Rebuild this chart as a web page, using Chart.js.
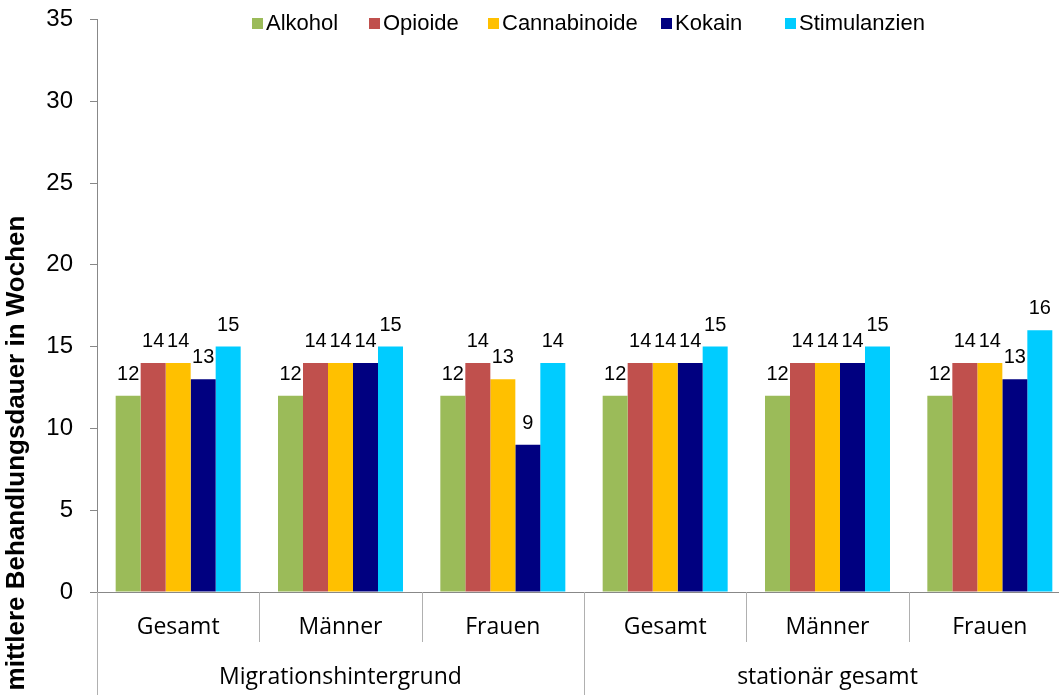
<!DOCTYPE html>
<html>
<head>
<meta charset="utf-8">
<script src="https://cdn.jsdelivr.net/npm/chart.js@4/dist/chart.umd.min.js"></script>
<style>
  html, body { margin: 0; padding: 0; background: #fff; overflow: hidden; }
  #wrap { width: 1059px; height: 695px; overflow: hidden; }
  #chart { display: block; margin-top: -12px; }
</style>
</head>
<body>
<div id="wrap"><canvas id="chart" width="1075" height="707"></canvas></div>
<script>
// Kategorien und Gruppen
var kategorien = ['Gesamt', 'Männer', 'Frauen', 'Gesamt', 'Männer', 'Frauen'];
var gruppen = ['Migrationshintergrund', 'stationär gesamt'];

// Werte je Substanz
var alkohol = [12, 12, 12, 12, 12, 12];
var opioide = [14, 14, 14, 14, 14, 14];
var cannabinoide = [14, 14, 13, 14, 14, 14];
var kokain = [13, 14, 9, 14, 14, 13];
var stimulanzien = [15, 15, 14, 15, 15, 16];

var yTicks = [0, 5, 10, 15, 20, 25, 30, 35];

var serien = [
    { label: 'Alkohol', data: alkohol, color: '#9BBB59' },
    { label: 'Opioide', data: opioide, color: '#C0504D' },
    { label: 'Cannabinoide', data: cannabinoide, color: '#FFC000' },
    { label: 'Kokain', data: kokain, color: '#000080' },
    { label: 'Stimulanzien', data: stimulanzien, color: '#00CCFF' }
];

var versatz = 12; // Canvas ist um 12px nach oben verschoben

// Legende, Werte, zweistufige Achse selbst zeichnen
var extras = {
    id: 'extras',
    afterDatasetsDraw(chart) {
        var ctx = chart.ctx;
        var area = chart.chartArea;
        var x = chart.scales.x;

        // Datenbeschriftungen
        ctx.save();
        ctx.fillStyle = '#000';
        ctx.font = '20px "Liberation Sans", Arial, sans-serif';
        ctx.textAlign = 'center';
        ctx.textBaseline = 'alphabetic';
        chart.data.datasets.forEach((ds, i) => {
            chart.getDatasetMeta(i).data.forEach((bar, j) => {
                ctx.fillText(ds.data[j], bar.x, bar.y - 16);
            });
        });
        ctx.restore();

        // Trennlinien und Beschriftungen der x-Achse
        var step = x.getPixelForValue(1) - x.getPixelForValue(0);
        ctx.save();
        ctx.strokeStyle = '#b0b0b0';
        ctx.lineWidth = 1;
        for (var k = 0; k <= kategorien.length; k++) {
            var px = Math.round(x.getPixelForValue(k) - step / 2) + 0.5;
            var lang = (k % 3 === 0);
            ctx.beginPath();
            ctx.moveTo(px, area.bottom);
            ctx.lineTo(px, lang ? area.bottom + 103 : area.bottom + 50);
            ctx.stroke();
        }
        ctx.fillStyle = '#000';
        ctx.font = '23px "Open Sans", "Noto Sans", sans-serif';
        ctx.textAlign = 'center';
        ctx.textBaseline = 'middle';
        kategorien.forEach((k, i) => {
            ctx.fillText(k, x.getPixelForValue(i), area.bottom + 35);
        });
        gruppen.forEach((g, i) => {
            var mitte = (x.getPixelForValue(i * 3) + x.getPixelForValue(i * 3 + 2)) / 2;
            ctx.fillText(g, mitte, area.bottom + 85);
        });
        ctx.restore();

        // Legende
        ctx.save();
        ctx.font = '22px "Liberation Sans", Arial, sans-serif';
        ctx.textBaseline = 'middle';
        ctx.textAlign = 'left';
        var lx = [252, 369, 488, 661, 785];
        serien.forEach((s, i) => {
            ctx.fillStyle = s.color;
            ctx.fillRect(lx[i], 18 + versatz, 11, 11);
            ctx.fillStyle = '#000';
            ctx.fillText(s.label, lx[i] + 14, 24 + versatz);
        });
        ctx.restore();

        // y-Achsentitel
        ctx.save();
        ctx.translate(17, 453 + versatz);
        ctx.rotate(-Math.PI / 2);
        ctx.font = 'bold 26px "Liberation Sans", Arial, sans-serif';
        ctx.textAlign = 'center';
        ctx.textBaseline = 'middle';
        ctx.fillStyle = '#000';
        ctx.fillText('mittlere Behandlungsdauer in Wochen', 0, 0);
        ctx.restore();
    }
};

var ctx = document.getElementById('chart').getContext('2d');
new Chart(ctx, {
    type: 'bar',
    data: {
        labels: kategorien,
        datasets: serien.map(s => ({
            label: s.label,
            data: s.data,
            backgroundColor: s.color,
            borderWidth: 0,
            categoryPercentage: 0.77,
            barPercentage: 1
        }))
    },
    options: {
        responsive: false,
        animation: false,
        layout: { padding: { top: 7, right: 4, bottom: 0, left: 0 } },
        plugins: {
            legend: { display: false },
            tooltip: { enabled: false }
        },
        scales: {
            x: {
                ticks: { display: false },
                grid: { display: false },
                border: { display: true, color: '#888' },
                afterFit: s => { s.height = 103; }
            },
            y: {
                min: 0,
                max: 35,
                afterBuildTicks: s => { s.ticks = yTicks.map(v => ({ value: v })); },
                ticks: {
                    color: '#000',
                    font: { family: '"Liberation Sans", Arial, sans-serif', size: 24 },
                    padding: 17
                },
                grid: { drawOnChartArea: false, tickLength: 7, color: '#888' },
                border: { display: true, color: '#888' },
                afterFit: s => { s.width = 97; }
            }
        }
    },
    plugins: [extras]
});
</script>
</body>
</html>
